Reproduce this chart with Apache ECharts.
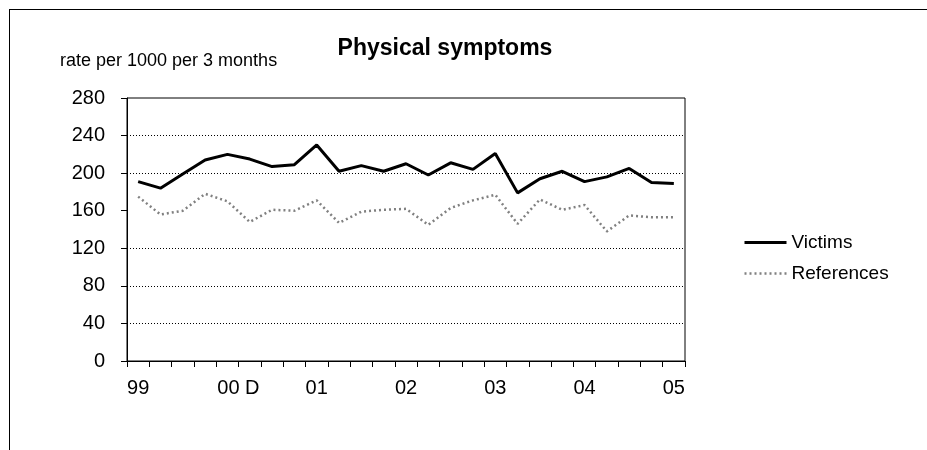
<!DOCTYPE html>
<html>
<head>
<meta charset="utf-8">
<script src="https://cdn.jsdelivr.net/npm/echarts@6/dist/echarts.min.js"></script>
<style>
  html, body { margin: 0; padding: 0; background: #fff; }
  #chart { width: 927px; height: 450px; }
</style>
</head>
<body>
<div id="chart"></div>
<script>
// Quarterly rates, first quarter of 1999 to first quarter of 2005
const categories = [
  '1999 Q1', '1999 Q2', '1999 Q3', '1999 Q4',
  '2000 Q1', '2000 Q2', '2000 Q3', '2000 Q4',
  '2001 Q1', '2001 Q2', '2001 Q3', '2001 Q4',
  '2002 Q1', '2002 Q2', '2002 Q3', '2002 Q4',
  '2003 Q1', '2003 Q2', '2003 Q3', '2003 Q4',
  '2004 Q1', '2004 Q2', '2004 Q3', '2004 Q4',
  '2005 Q1'
];
const tickLabels = [
  '99', '', '', '', '00 D', '', '', '', '01', '', '', '', '02', '', '', '',
  '03', '', '', '', '04', '', '', '', '05'
];
const victims = [
  191, 184, 199, 214, 220, 215, 207, 209, 230, 202, 208, 202, 210,
  198, 211, 204, 221, 179, 194, 202, 191, 196, 205, 190, 189
];
const references = [
  175, 156, 160, 178, 170, 148, 161, 160, 171, 147, 159, 161, 162,
  145, 163, 171, 177, 146, 172, 161, 166, 138, 155, 153, 153
];
const gridValues = [40, 80, 120, 200, 240];

const FONT = '"Liberation Sans", Arial, sans-serif';
const chart = echarts.init(document.getElementById('chart'), null, { renderer: 'canvas' });

chart.setOption({
  backgroundColor: '#fff',
  animation: false,
  title: [
    {
      text: 'Physical symptoms',
      left: 440, top: 32, textAlign: 'center',
      textStyle: { fontFamily: FONT, fontSize: 23, fontWeight: 'bold', color: '#000' }
    },
    {
      text: 'rate per 1000 per 3 months',
      left: 55, top: 47,
      textStyle: { fontFamily: FONT, fontSize: 18, fontWeight: 'normal', color: '#000' }
    }
  ],
  graphic: [
    { type: 'line', shape: { x1: 9, y1: 9.5, x2: 927, y2: 9.5 }, style: { stroke: '#000', lineWidth: 1 } },
    { type: 'line', shape: { x1: 9.5, y1: 9, x2: 9.5, y2: 450 }, style: { stroke: '#000', lineWidth: 1 } }
  ],
  legend: {
    orient: 'vertical',
    left: 738, top: 228,
    itemWidth: 42, itemHeight: 12, itemGap: 12,
    itemStyle: { opacity: 0 },
    textStyle: { fontFamily: FONT, fontSize: 19, color: '#000' },
    data: [
      { name: 'Victims', lineStyle: { width: 3, color: '#000', type: 'solid' } },
      { name: 'References', lineStyle: { width: 2.5, color: '#808080', type: [2, 3] } }
    ]
  },
  grid: {
    left: 127, right: 242, top: 98, bottom: 89,
    show: true, borderColor: '#000', borderWidth: 1, backgroundColor: 'transparent'
  },
  xAxis: {
    type: 'category',
    data: categories,
    boundaryGap: true,
    axisLine: { lineStyle: { color: '#000', width: 1 } },
    axisTick: { show: true, interval: 0, length: 6, lineStyle: { color: '#000' } },
    axisLabel: {
      interval: 0, margin: 17,
      fontFamily: FONT, fontSize: 20, color: '#000',
      formatter: (v, i) => (i === 4 ? '{shift|' + tickLabels[i] + '}' : tickLabels[i]),
      rich: {
        shift: { fontFamily: FONT, fontSize: 20, color: '#000', padding: [0, 0, 0, 22] }
      }
    },
    splitLine: { show: false }
  },
  yAxis: {
    type: 'value',
    min: 0, max: 280, interval: 40,
    axisLine: { show: true, lineStyle: { color: '#000', width: 1 } },
    axisTick: { show: true, length: 6, lineStyle: { color: '#000' } },
    axisLabel: { margin: 22, fontFamily: FONT, fontSize: 20, color: '#000' },
    splitLine: { show: false }
  },
  series: [
    {
      name: 'Victims',
      type: 'line',
      data: victims,
      symbol: 'none',
      lineStyle: { color: '#000', width: 3, type: 'solid' },
      itemStyle: { color: '#000' },
      z: 3,
      markLine: {
        silent: true,
        symbol: 'none',
        label: { show: false },
        lineStyle: { color: '#000', width: 1, type: [1, 2] },
        data: gridValues.map(v => ({ yAxis: v }))
      }
    },
    {
      name: 'References',
      type: 'line',
      data: references,
      symbol: 'none',
      lineStyle: { color: '#808080', width: 2.5, type: [2, 3] },
      itemStyle: { color: '#808080' },
      z: 2
    }
  ]
});
</script>
</body>
</html>
